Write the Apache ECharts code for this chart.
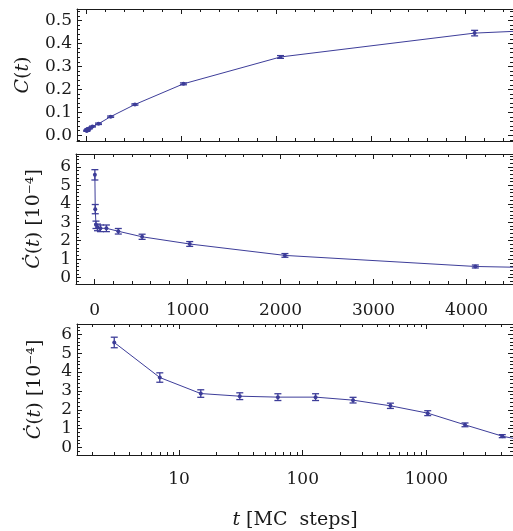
<!doctype html>
<html>
<head>
<meta charset="UTF-8">
<title>C(t)</title>
<script src="https://cdn.jsdelivr.net/npm/echarts@6/dist/echarts.min.js"></script>
<style>
  html, body { margin: 0; padding: 0; background: #fff; }
  #chart { width: 513px; height: 531px; }
</style>
</head>
<body>
<div id="chart"></div>
<script>
// --- data ---
const tSteps     = [3, 7, 15, 31, 63, 127, 255, 511, 1023, 2047, 4095, 8191];
const corrValues = [0.019, 0.022, 0.027, 0.030, 0.038, 0.050, 0.081, 0.134, 0.224, 0.341, 0.445, 0.52];
const corrErrors = [0.002, 0.002, 0.002, 0.002, 0.002, 0.003, 0.003, 0.003, 0.004, 0.006, 0.012, 0.012];
const rateValues = [5.57, 3.71, 2.86, 2.72, 2.67, 2.67, 2.51, 2.21, 1.82, 1.20, 0.60, 0.20];
const rateErrors = [0.28, 0.25, 0.20, 0.18, 0.18, 0.18, 0.15, 0.14, 0.13, 0.10, 0.08, 0.08];

// tick values
const linMajorX = [0, 1000, 2000, 3000, 4000];
const linMinorX = [-200, 200, 400, 600, 800, 1200, 1400, 1600, 1800, 2200, 2400, 2600, 2800,
                   3200, 3400, 3600, 3800, 4200, 4400];
const logMajorX = [10, 100, 1000];
const logMinorX = [2, 3, 4, 5, 6, 7, 8, 9, 20, 30, 40, 50, 60, 70, 80, 90,
                   200, 300, 400, 500, 600, 700, 800, 900, 2000, 3000, 4000, 5000];
const corrMajorY = [0, 0.1, 0.2, 0.3, 0.4, 0.5];
const corrMinorY = [-0.02, 0.02, 0.04, 0.06, 0.08, 0.12, 0.14, 0.16, 0.18, 0.22, 0.24, 0.26, 0.28,
                    0.32, 0.34, 0.36, 0.38, 0.42, 0.44, 0.46, 0.48, 0.52, 0.54];
const rateMajorY = [0, 1, 2, 3, 4, 5, 6];
const rateMinorY = [-0.2, 0.2, 0.4, 0.6, 0.8, 1.2, 1.4, 1.6, 1.8, 2.2, 2.4, 2.6, 2.8, 3.2, 3.4, 3.6, 3.8,
                    4.2, 4.4, 4.6, 4.8, 5.2, 5.4, 5.6, 5.8, 6.2, 6.4, 6.6];

const blue = '#3d3d99';
const ink = '#1a1a1a';
const serif = 'DejaVu Serif';

const chart = echarts.init(document.getElementById('chart'));

const nameStyle = {
  fontFamily: serif, fontSize: 19, color: ink,
  rich: { i: { fontFamily: serif, fontSize: 19, fontStyle: 'italic', color: ink } }
};

// 4 x axes per grid: bottom major, bottom minor, top major, top minor
function xAxes(grid, type, min, max, major, minor, labels, name) {
  const out = [];
  ['bottom', 'top'].forEach(pos => {
    out.push({
      gridIndex: grid, type: type, min: min, max: max, position: pos,
      axisLine: { show: true, onZero: false, lineStyle: { color: ink, width: 1 } },
      axisTick: { show: true, inside: true, length: 5, customValues: major, lineStyle: { color: ink } },
      axisLabel: {
        show: labels && pos === 'bottom', customValues: major, margin: grid === 1 ? 18 : 16,
        formatter: v => String(v),
        fontFamily: serif, fontSize: 17, color: ink
      },
      splitLine: { show: false },
      name: pos === 'bottom' ? name : '',
      nameLocation: 'middle', nameGap: 56,
      nameTextStyle: nameStyle
    });
    out.push({
      gridIndex: grid, type: type, min: min, max: max, position: pos,
      axisLine: { show: false, onZero: false },
      axisTick: { show: true, inside: true, length: 3, customValues: minor, lineStyle: { color: ink } },
      axisLabel: { show: false },
      splitLine: { show: false }
    });
  });
  return out;
}

function yAxes(grid, min, max, major, minor, fmt, name, gap) {
  const out = [];
  ['left', 'right'].forEach(pos => {
    out.push({
      gridIndex: grid, type: 'value', min: min, max: max, position: pos,
      axisLine: { show: true, onZero: false, lineStyle: { color: ink, width: 1 } },
      axisTick: { show: true, inside: true, length: 5, customValues: major, lineStyle: { color: ink } },
      axisLabel: {
        show: pos === 'left', customValues: major, margin: 5, formatter: fmt,
        fontFamily: serif, fontSize: 17, color: ink
      },
      splitLine: { show: false },
      name: pos === 'left' ? name : '',
      nameLocation: 'middle', nameRotate: 90, nameGap: gap,
      nameTextStyle: nameStyle
    });
    out.push({
      gridIndex: grid, type: 'value', min: min, max: max, position: pos,
      axisLine: { show: false, onZero: false },
      axisTick: { show: true, inside: true, length: 3, customValues: minor, lineStyle: { color: ink } },
      axisLabel: { show: false },
      splitLine: { show: false }
    });
  });
  return out;
}

function lineSeries(grid, ys) {
  return {
    type: 'line', xAxisIndex: grid * 4, yAxisIndex: grid * 4,
    data: tSteps.map((t, i) => [t, ys[i]]),
    symbol: 'circle', symbolSize: 4, showAllSymbol: true,
    lineStyle: { color: blue, width: 1 },
    itemStyle: { color: blue },
    clip: true, animation: false, z: 3
  };
}

function errorSeries(grid, ys, errs) {
  return {
    type: 'custom', xAxisIndex: grid * 4, yAxisIndex: grid * 4,
    data: tSteps.map((t, i) => [t, ys[i] - errs[i], ys[i] + errs[i]]),
    encode: { x: 0, y: [1, 2] },
    clip: true, animation: false, z: 4,
    renderItem: function (params, api) {
      const lo = api.coord([api.value(0), api.value(1)]);
      const hi = api.coord([api.value(0), api.value(2)]);
      const w = 3.5;
      const st = { stroke: blue, lineWidth: 1.3 };
      return {
        type: 'group',
        children: [
          { type: 'line', shape: { x1: lo[0], y1: lo[1], x2: hi[0], y2: hi[1] }, style: st },
          { type: 'line', shape: { x1: lo[0] - w, y1: lo[1], x2: lo[0] + w, y2: lo[1] }, style: st },
          { type: 'line', shape: { x1: hi[0] - w, y1: hi[1], x2: hi[0] + w, y2: hi[1] }, style: st }
        ]
      };
    }
  };
}

chart.setOption({
  animation: false,
  grid: [
    { left: 77, top: 9, width: 438, height: 132 },
    { left: 76, top: 154, width: 440, height: 130 },
    { left: 77, top: 324, width: 438, height: 131 }
  ],
  xAxis: [].concat(
    xAxes(0, 'value', -100, 4500, linMajorX, linMinorX, false, ''),
    xAxes(1, 'value', -200, 4500, linMajorX, linMinorX, true, ''),
    xAxes(2, 'log', 1.5, 5000, logMajorX, logMinorX, true, '{i|t} [MC  steps]')
  ),
  yAxis: [].concat(
    yAxes(0, -0.025, 0.55, corrMajorY, corrMinorY, v => Number(v).toFixed(1), '{i|C}({i|t})', 44),
    yAxes(1, -0.35, 6.7, rateMajorY, rateMinorY, v => String(v), '{i|Ċ}({i|t}) [10⁻⁴]', 32),
    yAxes(2, -0.4, 6.55, rateMajorY, rateMinorY, v => String(v), '{i|Ċ}({i|t}) [10⁻⁴]', 32)
  ),
  series: [
    lineSeries(0, corrValues), errorSeries(0, corrValues, corrErrors),
    lineSeries(1, rateValues), errorSeries(1, rateValues, rateErrors),
    lineSeries(2, rateValues), errorSeries(2, rateValues, rateErrors)
  ]
});
</script>
</body>
</html>
